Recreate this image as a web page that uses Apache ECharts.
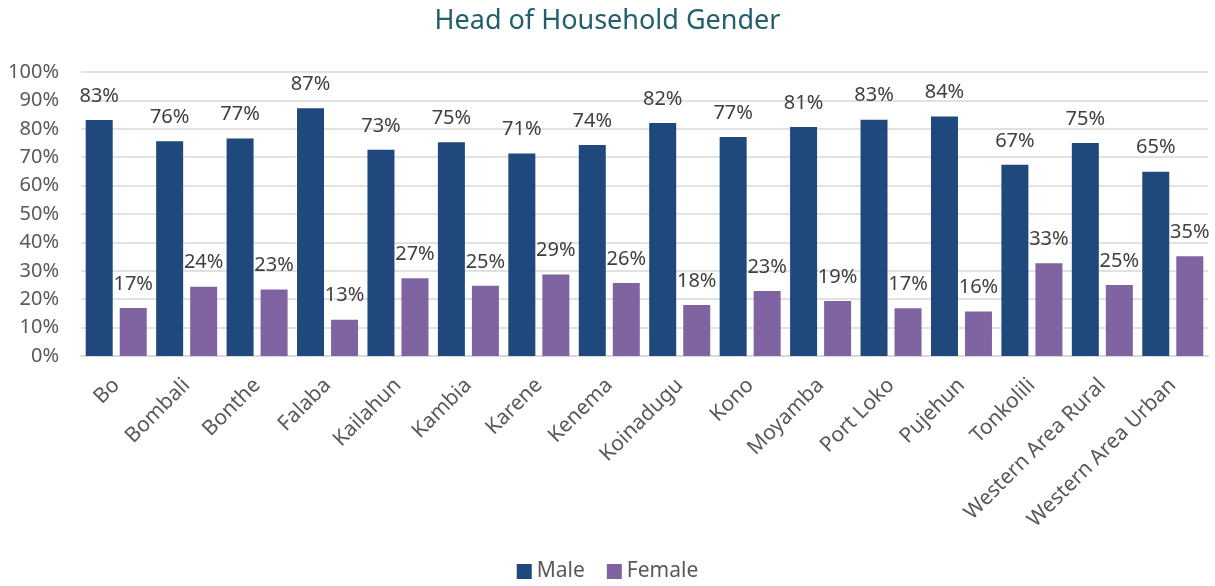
<!DOCTYPE html>
<html>
<head>
<meta charset="utf-8">
<script src="https://cdn.jsdelivr.net/npm/echarts@6/dist/echarts.min.js"></script>
<style>html,body{margin:0;padding:0;background:#fff;}#c{width:1215px;height:586px;}</style>
</head>
<body>
<div id="c"></div>
<script>
const categories = ['Bo','Bombali','Bonthe','Falaba','Kailahun','Kambia','Karene','Kenema','Koinadugu','Kono','Moyamba','Port Loko','Pujehun','Tonkolili','Western Area Rural','Western Area Urban'];
const male = [83.1, 75.6, 76.6, 87.2, 72.6, 75.3, 71.3, 74.3, 82.0, 77.1, 80.6, 83.2, 84.3, 67.3, 75.0, 64.9];
const female = [16.9, 24.4, 23.4, 12.8, 27.4, 24.7, 28.7, 25.7, 18.0, 22.9, 19.4, 16.8, 15.7, 32.7, 25.0, 35.1];
const yTicks = [0,10,20,30,40,50,60,70,80,90,100];

const font = 'Noto Sans';
const chart = echarts.init(document.getElementById('c'));
const lbl = {
  show: true, position: 'top', distance: 14,
  formatter: p => Math.round(p.value) + '%',
  color: '#404040', fontSize: 20, fontFamily: font
};
chart.setOption({
  animation: false,
  title: {
    text: 'Head of Household Gender', left: 'center', top: 3,
    textStyle: { color: '#235e6d', fontSize: 27, fontWeight: 'normal', fontFamily: font }
  },
  legend: {
    bottom: -1, left: 'center', itemWidth: 15, itemHeight: 15, itemGap: 22,
    icon: 'rect',
    textStyle: { color: '#595959', fontSize: 21, fontFamily: font },
    data: ['Male','Female']
  },
  grid: { left: 81, right: 7, top: 72, bottom: 230, containLabel: false },
  xAxis: {
    type: 'category', data: categories,
    axisLine: { lineStyle: { color: '#d9d9d9', width: 2 } },
    axisTick: { show: false },
    axisLabel: { rotate: 45, color: '#595959', fontSize: 21, fontFamily: font, margin: 26, interval: 0 }
  },
  yAxis: {
    type: 'value', min: yTicks[0], max: yTicks[yTicks.length-1], interval: 10,
    axisLine: { show: false }, axisTick: { show: false },
    splitLine: { lineStyle: { color: '#d9d9d9', width: 1.5 } },
    axisLabel: { formatter: v => v + '%', color: '#595959', fontSize: 20, fontFamily: font, margin: 22 }
  },
  series: [
    { name: 'Male', type: 'bar', data: male, barWidth: 27, barGap: '26%',
      itemStyle: { color: '#1f497d' }, label: lbl },
    { name: 'Female', type: 'bar', data: female, barWidth: 27,
      itemStyle: { color: '#8064a2' }, label: lbl }
  ]
});
</script>
</body>
</html>
